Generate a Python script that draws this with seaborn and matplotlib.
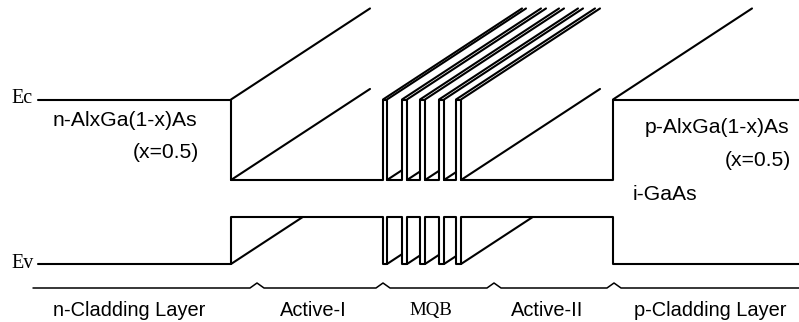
import numpy as np
import pandas as pd
import matplotlib
matplotlib.use("Agg")
import matplotlib.pyplot as plt
import seaborn as sns

# ---- data (position in arbitrary units, energy in arbitrary units, up = higher) ----
x_start = 38
x_end = 799
n_clad_end = 231
mqb_start = 383
p_clad_start = 613
barrier_left = [383, 402, 420, 439, 456]
barrier_right = [387, 407, 425, 444, 461]
Ec_clad = 222.5     # AlGaAs conduction band edge (= barrier top)
Ec_well = 142.0     # GaAs conduction band edge
Ev_well = 105.0     # GaAs valence band edge
Ev_clad = 58.0      # AlGaAs valence band edge
field_slope = 0.655  # slope of the tilted (field) lines
field_len = 139      # horizontal extent of tilted conduction lines

axis_y = 34
bracket_x = [257, 383, 494, 614]
region_labels = ["n-Cladding Layer", "Active-I", "MQB", "Active-II", "p-Cladding Layer"]
region_label_x = [129, 313, 431, 547, 710]

# ---- build line segments ----
segs = []
def add(seg_id, xs, ys):
    for x, y in zip(xs, ys):
        segs.append({"seg": seg_id, "x": x, "y": y})

# conduction band outline
cx = [x_start, n_clad_end, n_clad_end, mqb_start]
cy = [Ec_clad, Ec_clad, Ec_well, Ec_well]
for xl, xr in zip(barrier_left, barrier_right):
    cx += [xl, xl, xr, xr]
    cy += [Ec_well, Ec_clad, Ec_clad, Ec_well]
cx += [p_clad_start, p_clad_start, x_end]
cy += [Ec_well, Ec_clad, Ec_clad]
add("cb", cx, cy)

# valence band outline
vx = [x_start, n_clad_end, n_clad_end, mqb_start]
vy = [Ev_clad, Ev_clad, Ev_well, Ev_well]
for xl, xr in zip(barrier_left, barrier_right):
    vx += [xl, xl, xr, xr]
    vy += [Ev_well, Ev_clad, Ev_clad, Ev_well]
vx += [p_clad_start, p_clad_start, x_end]
vy += [Ev_well, Ev_clad, Ev_clad]
add("vb", vx, vy)

k = 0
# tilted conduction-band lines from cladding/barrier tops
tops = [n_clad_end] + [v for pair in zip(barrier_left, barrier_right) for v in pair] + [p_clad_start]
for x0 in tops:
    add(f"t{k}", [x0, x0 + field_len], [Ec_clad, Ec_clad + field_slope * field_len]); k += 1
# tilted lines from well floors (Active-I, Active-II)
for x0 in [n_clad_end, barrier_right[-1]]:
    add(f"t{k}", [x0, x0 + field_len], [Ec_well, Ec_well + field_slope * field_len]); k += 1
    dxv = (Ev_well - Ev_clad) / field_slope
    add(f"t{k}", [x0, x0 + dxv], [Ev_clad, Ev_well]); k += 1
# small tilted lines inside MQB wells
for xr, xl_next in zip(barrier_right[:-1], barrier_left[1:]):
    gap = xl_next - xr
    add(f"t{k}", [xr, xl_next], [Ec_well, Ec_well + field_slope * gap]); k += 1
    add(f"t{k}", [xr, xl_next], [Ev_clad, Ev_clad + field_slope * gap]); k += 1

df = pd.DataFrame(segs)

# bottom region axis with bracket carets
ax_x = [33]
ax_y = [axis_y]
for bx in bracket_x:
    ax_x += [bx - 7, bx, bx + 7]
    ax_y += [axis_y, axis_y + 5, axis_y]
ax_x.append(x_end)
ax_y.append(axis_y)
df_axis = pd.DataFrame({"x": ax_x, "y": ax_y, "seg": "axis"})

# ---- plot ----
sns.set_theme(style="white")
fig = plt.figure(figsize=(7.99, 3.22), dpi=100)
ax = fig.add_axes([0, 0, 1, 1])
sns.lineplot(data=df, x="x", y="y", units="seg", estimator=None, sort=False,
             color="black", linewidth=1.5, ax=ax, legend=False)
sns.lineplot(data=df_axis, x="x", y="y", units="seg", estimator=None, sort=False,
             color="black", linewidth=1.1, ax=ax, legend=False)
ax.set_xlim(0, 799)
ax.set_ylim(0, 322)
ax.axis("off")

sans = ["Liberation Sans", "DejaVu Sans"]
serif = ["Liberation Serif", "DejaVu Serif"]
fs = 15.2
tc = "black"

ax.text(11, Ec_clad + 1, "Ec", fontsize=14.5, family=serif, ha="left", va="center", color=tc)
ax.text(11, Ev_clad + 1, "Ev", fontsize=14.5, family=serif, ha="left", va="center", color=tc)
ax.text(53, 202, "n-AlxGa(1-x)As", fontsize=fs, family=sans, ha="left", va="center", color=tc)
ax.text(199, 170, "(x=0.5)", fontsize=fs, family=sans, ha="right", va="center", color=tc)
ax.text(645, 195, "p-AlxGa(1-x)As", fontsize=fs, family=sans, ha="left", va="center", color=tc)
ax.text(791, 162, "(x=0.5)", fontsize=fs, family=sans, ha="right", va="center", color=tc)
ax.text(633, 127, "i-GaAs", fontsize=fs, family=sans, ha="left", va="center", color=tc)

for lab, lx in zip(region_labels, region_label_x):
    fam = serif if lab == "MQB" else sans
    ax.text(lx, 12, lab, fontsize=13.6 if lab == "MQB" else 14.4, family=fam,
            ha="center", va="center", color=tc)

fig.savefig("out.png", dpi=100, facecolor="white")
